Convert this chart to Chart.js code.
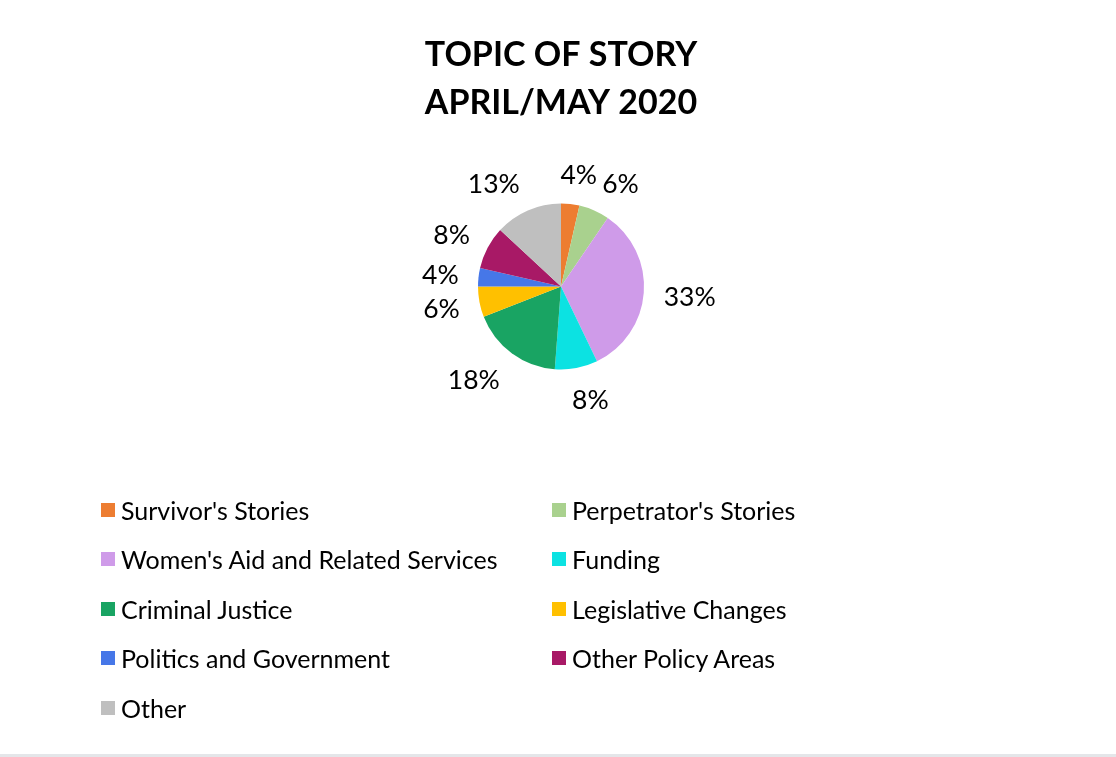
<!DOCTYPE html>
<html>
<head>
<meta charset="utf-8">
<script src="https://cdn.jsdelivr.net/npm/chart.js@4.4.1/dist/chart.umd.min.js"></script>
<style>
  html, body { margin: 0; padding: 0; background: #ffffff; }
  #wrap { position: relative; width: 1116px; height: 757px; overflow: hidden; background: #fff; }
  #c { position: absolute; left: 0; top: 0; }
  #legend { position: absolute; left: 0; top: 0; width: 1116px; height: 757px; pointer-events: none; }
  .item { position: absolute; display: flex; align-items: center; height: 30px; font-family: Lato, "Noto Sans", sans-serif; font-size: 25px; color: #000; white-space: nowrap; }
  .sw { width: 14px; height: 14px; margin-right: 6px; flex: 0 0 auto; }
  #bottomline { position: absolute; left: 0; right: 0; bottom: 0; height: 3px; background: #e4e6e9; }
</style>
</head>
<body>
<div id="wrap">
  <canvas id="c" width="1116" height="757"></canvas>
  <div id="legend"></div>
  <div id="bottomline"></div>
</div>
<script>
const titleLines = ["TOPIC OF STORY", "APRIL/MAY 2020"];
const categories = [
  "Survivor's Stories",
  "Perpetrator's Stories",
  "Women's Aid and Related Services",
  "Funding",
  "Criminal Justice",
  "Legislative Changes",
  "Politics and Government",
  "Other Policy Areas",
  "Other"
];
const storyCounts = [3, 5, 28, 7, 15, 5, 3, 7, 11];
const sliceColors = ["#ED7D31", "#A9D18E", "#CF9BE9", "#0CE2E2", "#19A463", "#FFC000", "#4677E8", "#A81966", "#BFBFBF"];

const FONT = 'Lato, "Noto Sans", sans-serif';

const pctLabels = {
  id: 'pctLabels',
  afterDatasetsDraw(chart) {
    const ctx = chart.ctx;
    const meta = chart.getDatasetMeta(0);
    const data = chart.data.datasets[0].data;
    const total = data.reduce((a, b) => a + b, 0);
    ctx.save();
    ctx.font = '26.5px ' + FONT;
    ctx.fillStyle = '#000';
    ctx.textAlign = 'center';
    ctx.textBaseline = 'middle';
    meta.data.forEach((arc, i) => {
      const p = arc.getProps(['x', 'y', 'startAngle', 'endAngle', 'outerRadius'], true);
      const mid = (p.startAngle + p.endAngle) / 2;
      const dx = Math.cos(mid), dy = Math.sin(mid);
      const txt = Math.round(data[i] / total * 100) + '%';
      const halfW = ctx.measureText(txt).width / 2;
      const halfH = 11;
      const r = p.outerRadius + 20;
      const ax = p.x + r * dx, ay = p.y + r * dy;
      const sx = Math.max(-1, Math.min(1, dx * 3));
      ctx.fillText(txt, ax + halfW * sx, ay + halfH * dy + 2);
    });
    ctx.restore();
  }
};

const chart = new Chart(document.getElementById('c'), {
  type: 'pie',
  data: {
    labels: categories,
    datasets: [{
      data: storyCounts,
      backgroundColor: sliceColors,
      borderWidth: 0,
      hoverOffset: 0
    }]
  },
  options: {
    responsive: false,
    animation: false,
    radius: 83,
    layout: { padding: { left: 6, right: 0, top: 0, bottom: 311 } },
    plugins: {
      legend: { display: false },
      tooltip: { enabled: false },
      title: {
        display: true,
        text: titleLines,
        color: '#000',
        font: { family: FONT, size: 34, weight: 'bold', lineHeight: 48 / 34 },
        padding: { top: 31, bottom: 0 }
      }
    }
  },
  plugins: [pctLabels]
});

// HTML legend in two columns built from the chart's data
const legend = document.getElementById('legend');
const colX = [101, 552];
const rowY = [510, 559, 609, 658, 708];
categories.forEach((name, i) => {
  const col = i % 2, row = Math.floor(i / 2);
  const d = document.createElement('div');
  d.className = 'item';
  d.style.left = colX[col] + 'px';
  d.style.top = (rowY[row] - 15) + 'px';
  const sw = document.createElement('span');
  sw.className = 'sw';
  sw.style.background = sliceColors[i];
  const t = document.createElement('span');
  t.textContent = name;
  d.appendChild(sw);
  d.appendChild(t);
  legend.appendChild(d);
});
</script>
</body>
</html>
